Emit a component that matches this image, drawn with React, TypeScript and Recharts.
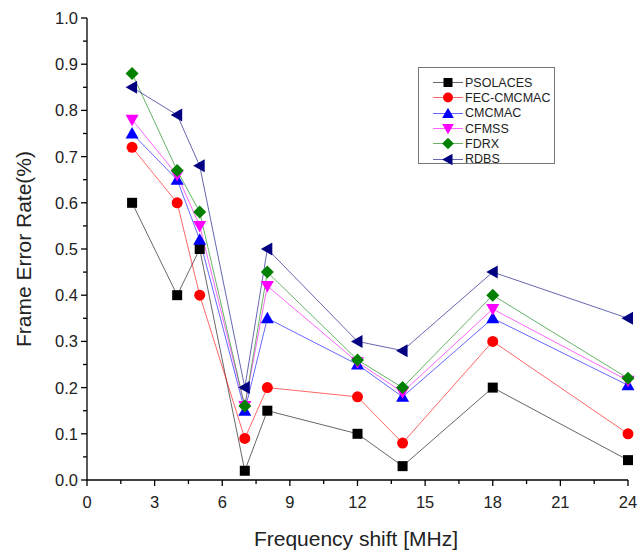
import { LineChart, Line, XAxis, YAxis } from 'recharts'

const freqShift = [2, 4, 5, 7, 8, 12, 14, 18, 24]

const psolaces = [0.6, 0.4, 0.5, 0.02, 0.15, 0.1, 0.03, 0.2, 0.043]
const fecCmcmac = [0.72, 0.6, 0.4, 0.09, 0.2, 0.18, 0.08, 0.3, 0.1]
const cmcmac = [0.75, 0.65, 0.52, 0.15, 0.35, 0.25, 0.18, 0.35, 0.205]
const cfmss = [0.78, 0.66, 0.55, 0.16, 0.42, 0.255, 0.19, 0.37, 0.215]
const fdrx = [0.88, 0.67, 0.58, 0.16, 0.45, 0.26, 0.2, 0.4, 0.22]
const rdbs = [0.85, 0.79, 0.68, 0.2, 0.5, 0.3, 0.28, 0.45, 0.35]

const xTicks = [0, 1.5, 3, 4.5, 6, 7.5, 9, 10.5, 12, 13.5, 15, 16.5, 18, 19.5, 21, 22.5, 24]
const xMajor = [0, 3, 6, 9, 12, 15, 18, 21, 24]
const yTicks = [0, 0.05, 0.1, 0.15, 0.2, 0.25, 0.3, 0.35, 0.4, 0.45, 0.5, 0.55, 0.6, 0.65, 0.7, 0.75, 0.8, 0.85, 0.9, 0.95, 1.0]
const yMajor = [0, 0.1, 0.2, 0.3, 0.4, 0.5, 0.6, 0.7, 0.8, 0.9, 1.0]

type Shape = 'square' | 'circle' | 'up' | 'down' | 'diamond' | 'left'

const series: { key: string; name: string; values: number[]; color: string; shape: Shape }[] = [
  { key: 'ps', name: 'PSOLACES', values: psolaces, color: '#000000', shape: 'square' },
  { key: 'fec', name: 'FEC-CMCMAC', values: fecCmcmac, color: '#ff0000', shape: 'circle' },
  { key: 'cm', name: 'CMCMAC', values: cmcmac, color: '#0000ff', shape: 'up' },
  { key: 'cf', name: 'CFMSS', values: cfmss, color: '#ff00ff', shape: 'down' },
  { key: 'fd', name: 'FDRX', values: fdrx, color: '#008000', shape: 'diamond' },
  { key: 'rd', name: 'RDBS', values: rdbs, color: '#000080', shape: 'left' },
]

const data = freqShift.map((x, i) => {
  const row: Record<string, number> = { x }
  series.forEach((s) => { row[s.key] = s.values[i] })
  return row
})

const FONT = '"Liberation Sans", Arial, sans-serif'

function Marker({ cx, cy, shape, color, s = 1 }: { cx: number; cy: number; shape: Shape; color: string; s?: number }) {
  const k = (v: number) => v * s
  switch (shape) {
    case 'square':
      return <rect x={cx - k(5)} y={cy - k(5)} width={k(10)} height={k(10)} fill={color} />
    case 'circle':
      return <circle cx={cx} cy={cy} r={k(5.5)} fill={color} />
    case 'up':
      return <polygon points={`${cx},${cy - k(6.5)} ${cx - k(6.5)},${cy + k(5)} ${cx + k(6.5)},${cy + k(5)}`} fill={color} />
    case 'down':
      return <polygon points={`${cx},${cy + k(6.5)} ${cx - k(6.5)},${cy - k(5)} ${cx + k(6.5)},${cy - k(5)}`} fill={color} />
    case 'diamond':
      return <polygon points={`${cx},${cy - k(6.5)} ${cx + k(6.5)},${cy} ${cx},${cy + k(6.5)} ${cx - k(6.5)},${cy}`} fill={color} />
    default:
      return <polygon points={`${cx - k(6.5)},${cy} ${cx + k(5)},${cy - k(6.5)} ${cx + k(5)},${cy + k(6.5)}`} fill={color} />
  }
}

// tick props: x/y are the label position (axis - tickSize - tickMargin)
function XTick(props: any) {
  const { x, y, payload } = props
  const axisY = y - 9
  const major = xMajor.includes(payload.value)
  return (
    <g>
      <line x1={x} x2={x} y1={axisY} y2={axisY + (major ? 6 : 4)} stroke="#000" strokeWidth={1.3} />
      {major && (
        <text x={x} y={axisY + 28} textAnchor="middle" fontSize={16.5} fontFamily={FONT} fill="#222">
          {payload.value}
        </text>
      )}
    </g>
  )
}

function YTick(props: any) {
  const { x, y, payload } = props
  const axisX = x + 9
  const major = yMajor.some((v) => Math.abs(v - payload.value) < 1e-6)
  return (
    <g>
      <line x1={axisX - (major ? 6 : 4)} x2={axisX} y1={y} y2={y} stroke="#000" strokeWidth={1.3} />
      {major && (
        <text x={axisX - 9} y={y + 6} textAnchor="end" fontSize={16.5} fontFamily={FONT} fill="#222">
          {payload.value.toFixed(1)}
        </text>
      )}
    </g>
  )
}

function Legendbox() {
  return (
    <div
      style={{
        position: 'absolute', left: 418, top: 67, width: 137, height: 97,
        border: '1px solid #777', background: '#fff', fontFamily: FONT, fontSize: 12.5,
        color: '#222', boxSizing: 'border-box', paddingTop: 7,
      }}
    >
      {series.map((s) => (
        <div key={s.key} style={{ display: 'flex', alignItems: 'center', height: 15.3 }}>
          <svg width={46} height={15} style={{ flex: 'none' }}>
            <line x1={14} x2={44} y1={7.5} y2={7.5} stroke={s.color} strokeOpacity={0.6} />
            <Marker cx={29} cy={7.5} shape={s.shape} color={s.color} s={0.9} />
          </svg>
          <span>{s.name}</span>
        </div>
      ))}
    </div>
  )
}

export default function App() {
  return (
    <div style={{ position: 'absolute', left: 0, top: 0, width: 640, height: 555, background: '#fff' }}>
      <LineChart width={640} height={555} data={data} margin={{ top: 18, right: 12, bottom: 0, left: 0 }}>
        <XAxis
          dataKey="x"
          type="number"
          domain={[0, 24]}
          ticks={xTicks}
          interval={0}
          height={75}
          tickSize={6}
          tickMargin={3}
          tickLine={false}
          tick={<XTick />}
          stroke="#000"
          strokeWidth={1.3}
          label={{
            content: () => (
              <text x={356} y={546} textAnchor="middle" fontSize={21} fontFamily={FONT} fill="#222">
                Frequency shift [MHz]
              </text>
            ),
          }}
        />
        <YAxis
          type="number"
          domain={[0, 1]}
          ticks={yTicks}
          interval={0}
          width={87}
          tickSize={6}
          tickMargin={3}
          tickLine={false}
          tick={<YTick />}
          stroke="#000"
          strokeWidth={1.3}
          label={{
            content: () => (
              <text
                x={31}
                y={249}
                textAnchor="middle"
                fontSize={21}
                fontFamily={FONT}
                fill="#222"
                transform="rotate(-90 31 249)"
              >
                Frame Error Rate(%)
              </text>
            ),
          }}
        />
        {series.map((s) => (
          <Line
            key={s.key}
            dataKey={s.key}
            name={s.name}
            stroke={s.color}
            strokeOpacity={0.6}
            strokeWidth={1}
            isAnimationActive={false}
            dot={(p: any) => <Marker key={`${s.key}-${p.index}`} cx={p.cx} cy={p.cy} shape={s.shape} color={s.color} />}
            activeDot={false}
          />
        ))}
      </LineChart>
      <Legendbox />
    </div>
  )
}
